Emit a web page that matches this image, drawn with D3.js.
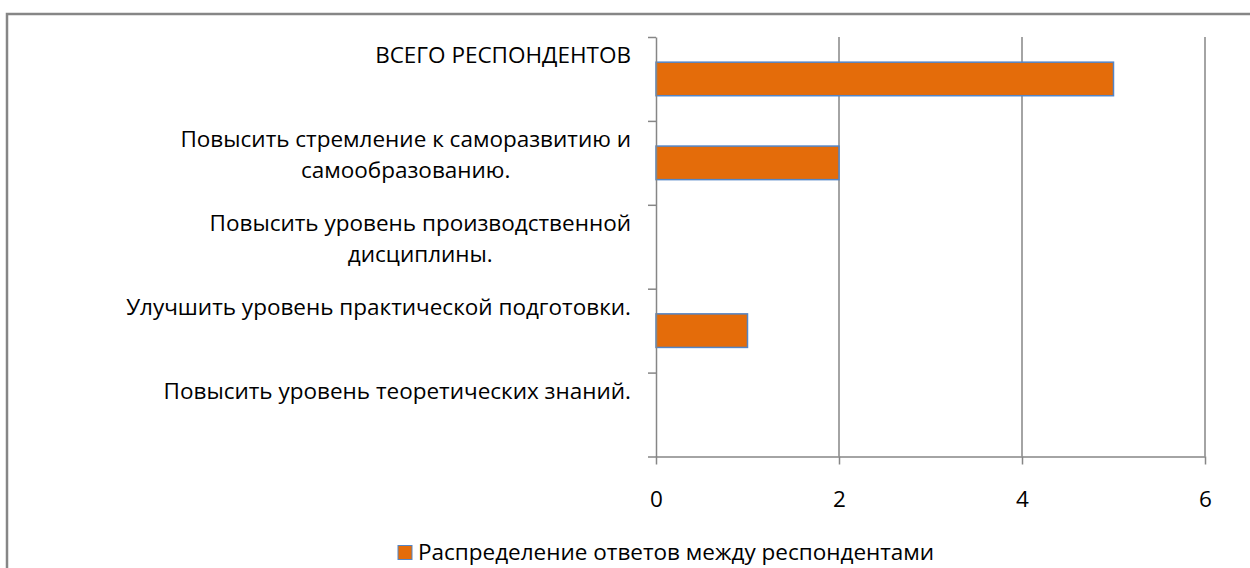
<!DOCTYPE html>
<html>
<head>
<meta charset="utf-8">
<script src="https://cdn.jsdelivr.net/npm/d3@7"></script>
<style>
  html, body { margin: 0; padding: 0; background: #fff; }
  svg { display: block; }
</style>
</head>
<body>
<div id="chart"></div>
<script>
// data, bottom to top as in the chart
const categories = [
  'Повысить уровень теоретических знаний.',
  'Улучшить уровень практической подготовки.',
  'Повысить уровень производственной дисциплины.',
  'Повысить стремление к саморазвитию и самообразованию.',
  'ВСЕГО РЕСПОНДЕНТОВ'
];
const labelLines = [
  ['Повысить уровень теоретических знаний.'],
  ['Улучшить уровень практической подготовки.'],
  ['Повысить уровень производственной', 'дисциплины.'],
  ['Повысить стремление к саморазвитию и ', 'самообразованию.'],
  ['ВСЕГО РЕСПОНДЕНТОВ']
];
const values = [0, 1, 0, 2, 5];
const xTicks = [0, 2, 4, 6];
const seriesName = 'Распределение ответов между респондентами';

const width = 1250;
const height = 568;
const plot = {left: 656, right: 1205, top: 37, bottom: 456.5};
const font = '"Open Sans", "Noto Sans", sans-serif';
const fontSize = 22.5;
const gray = '#868686';
const orange = '#E46C0A';
const blue = '#5385C6';

const svg = d3.select('#chart')
    .append('svg')
    .attr('width', width)
    .attr('height', height);

// outer frame (runs off the right and bottom edge)
svg.append('rect')
    .attr('x', 7)
    .attr('y', 14)
    .attr('width', width + 10)
    .attr('height', height + 10)
    .attr('fill', 'none')
    .attr('stroke', gray)
    .attr('stroke-width', 2.5);

const x = d3.scaleLinear()
    .domain([0, 6])
    .range([plot.left, plot.right]);

// reversed so the first category sits at the bottom
const y = d3.scaleBand()
    .domain(categories)
    .range([plot.bottom, plot.top])
    .paddingInner(0.6)
    .paddingOuter(0.3);

const yEdges = d3.scaleLinear()
    .domain([0, categories.length])
    .range([plot.bottom, plot.top]);

// vertical gridlines
svg.append('g')
    .selectAll('line')
    .data(xTicks.filter((d) => d > 0))
    .join('line')
    .attr('x1', (d) => x(d))
    .attr('x2', (d) => x(d))
    .attr('y1', plot.top)
    .attr('y2', plot.bottom)
    .attr('stroke', gray)
    .attr('stroke-width', 1.5);

// bars
svg.append('g')
    .selectAll('rect')
    .data(values.map((v, i) => ({name: categories[i], value: v})).filter((d) => d.value > 0))
    .join('rect')
    .attr('x', x(0))
    .attr('y', (d) => y(d.name))
    .attr('width', (d) => x(d.value) - x(0))
    .attr('height', y.bandwidth())
    .attr('fill', orange)
    .attr('stroke', blue)
    .attr('stroke-width', 1.5);

// x axis
const xAxis = svg.append('g')
    .attr('transform', `translate(0,${plot.bottom})`)
    .call(d3.axisBottom(x).tickValues(xTicks).tickFormat(d3.format('d'))
        .tickSize(8).tickSizeOuter(0));
xAxis.select('.domain').attr('stroke', gray).attr('stroke-width', 1.5);
xAxis.selectAll('.tick line').attr('stroke', gray).attr('stroke-width', 1.5);
xAxis.selectAll('.tick text')
    .attr('y', 50.5)
    .attr('dy', 0)
    .attr('fill', '#000')
    .attr('font-family', font)
    .attr('font-size', fontSize);

// y axis, ticks at category edges
const yAxis = svg.append('g')
    .attr('transform', `translate(${plot.left},0)`)
    .call(d3.axisLeft(yEdges).ticks(categories.length).tickFormat('')
        .tickSize(8).tickSizeOuter(0));
yAxis.select('.domain').attr('stroke', gray).attr('stroke-width', 1.5);
yAxis.selectAll('.tick line').attr('stroke', gray).attr('stroke-width', 1.5);

// category labels (top-anchored in the band, right-aligned block, centred lines)
const labelRight = 631;
const lineGap = 31;
const labels = svg.append('g')
    .attr('font-family', font)
    .attr('font-size', fontSize)
    .attr('fill', '#000');

categories.forEach((c, i) => {
  const lines = labelLines[i];
  const cy = y(c) + y.bandwidth() / 2;
  const g = labels.append('g');
  const texts = g.selectAll('text')
      .data(lines)
      .join('text')
      .attr('y', (d, k) => cy - 16 + k * lineGap)
      .text((d) => d);
  const widths = texts.nodes().map((n) => n.getComputedTextLength());
  const blockW = d3.max(widths);
  texts
      .attr('text-anchor', 'middle')
      .attr('x', labelRight - blockW / 2);
});

// legend
const legend = svg.append('g').attr('transform', 'translate(0,560)');
legend.append('rect')
    .attr('x', 398)
    .attr('y', -14.5)
    .attr('width', 14)
    .attr('height', 14)
    .attr('fill', orange)
    .attr('stroke', blue)
    .attr('stroke-width', 1);
legend.append('text')
    .attr('x', 418)
    .attr('font-family', font)
    .attr('font-size', fontSize)
    .attr('fill', '#000')
    .text(seriesName);
</script>
</body>
</html>
